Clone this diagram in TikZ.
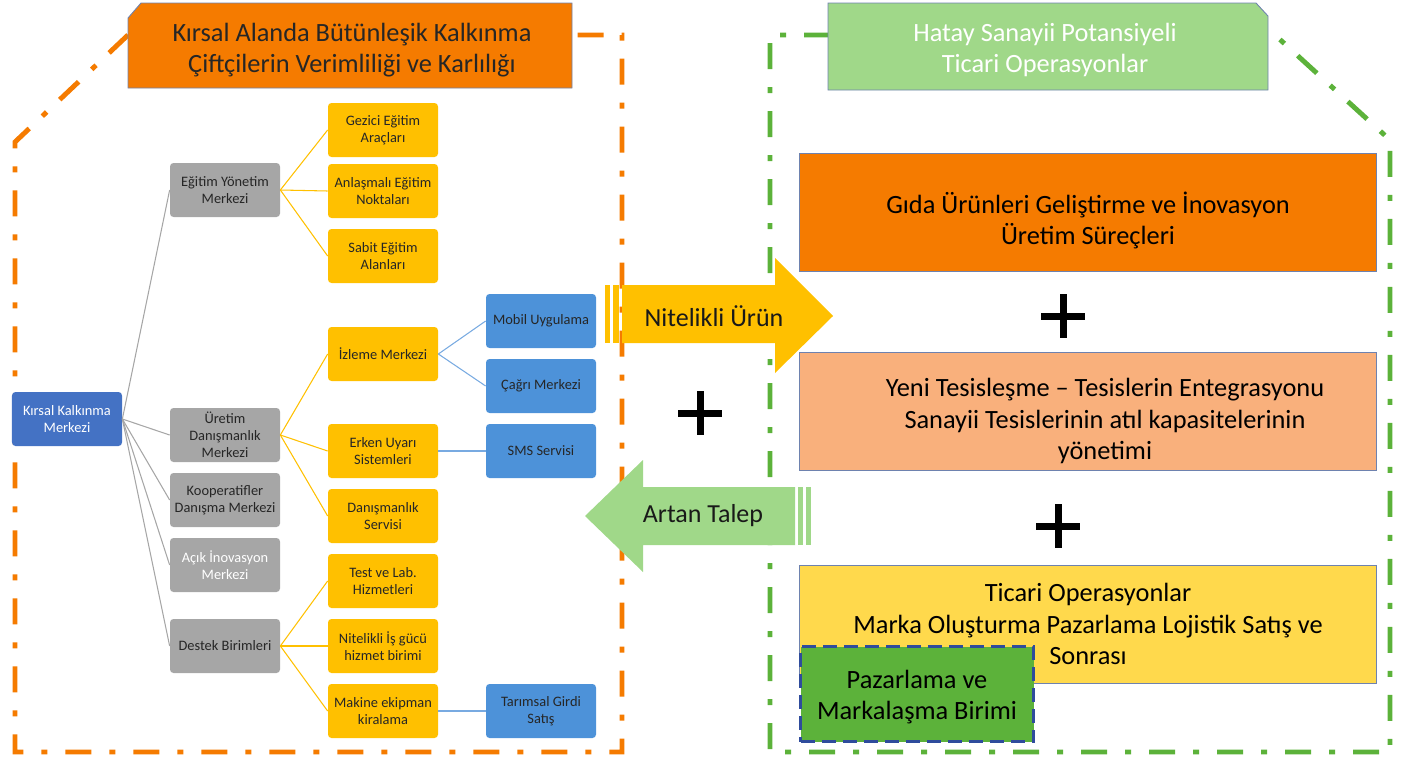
\documentclass[tikz,border=0pt]{standalone}
\usepackage{fontspec}
\setmainfont{Carlito}
\usepackage{tikz}
\usetikzlibrary{calc,positioning}
\definecolor{turuncu}{RGB}{245,123,0}
\definecolor{sari}{RGB}{255,192,0}
\definecolor{gri}{RGB}{166,166,166}
\definecolor{koyumavi}{RGB}{68,114,196}
\definecolor{acikmavi}{RGB}{77,146,217}
\definecolor{acikyesil}{RGB}{160,216,137}
\definecolor{yesil}{RGB}{92,178,58}
\definecolor{somon}{RGB}{249,176,124}
\definecolor{limon}{RGB}{255,217,76}
\definecolor{kenar}{RGB}{110,130,175}
\definecolor{cizgimavi}{RGB}{47,76,156}
\definecolor{hatmavi}{RGB}{120,170,225}
\newcommand{\ustpay}{\rule{0pt}{22pt}}
\newcommand{\sagpay}{\hspace*{6.8mm}}

\begin{document}
\begin{tikzpicture}[x=0.2mm,y=-0.2mm,every node/.style={font=\fontsize{8.2}{9.6}\selectfont},
          kutu/.style={rounded corners=2pt,minimum width=22mm,minimum height=10.8mm,inner sep=1pt,align=center,text=black!85},
          gkutu/.style={kutu,fill=gri},
          skutu/.style={kutu,fill=sari},
          mkutu/.style={kutu,fill=acikmavi},
          buyuk/.style={draw=kenar,line width=0.5pt,minimum width=115.4mm,minimum height=23.6mm,align=center,font=\fontsize{15}{18}\selectfont,text=black},
          baslik/.style={align=center,font=\fontsize{15}{17.5}\selectfont},
          cerceve/.style={line width=2.8pt,dash pattern=on 5.2mm off 3.6mm on 1.2mm off 3.6mm},
          arti/.style={minimum size=8.8mm,inner sep=0pt,path picture={
            \fill[black] ([xshift=-0.7mm]path picture bounding box.north) rectangle ([xshift=0.7mm]path picture bounding box.south);
            \fill[black] ([yshift=0.7mm]path picture bounding box.west) rectangle ([yshift=-0.7mm]path picture bounding box.east);}}]
        \useasboundingbox (0,0) rectangle (1409,760);
        % dash-dot frames
        \draw[turuncu,cerceve] (128,35) -- (15,142) -- (15,752) -- (622,752) -- (622,35) -- cycle;
        \draw[yesil,cerceve] (830,35) -- (770,35) -- (770,752) -- (1390,752) -- (1390,140) -- (1275,35) -- cycle;
        % headers
        \filldraw[fill=turuncu,draw=kenar,line width=0.5pt] (128,18) -- (141,3) -- (572,3) -- (572,88) -- (128,88) -- cycle;
        \node[baslik,text=black!85] (sol) at (352,50) {Kırsal Alanda Bütünleşik Kalkınma\\Çiftçilerin Verimliliği ve Karlılığı};
        \filldraw[fill=acikyesil,draw=kenar,line width=0.5pt] (828,3) -- (1256,3) -- (1268,16) -- (1268,90) -- (828,90) -- cycle;
        \node[baslik,text=white] (sag) at (1045,50) {Hatay Sanayii Potansiyeli\\Ticari Operasyonlar};
        % tree
        \node[kutu,fill=koyumavi,text=white] (kkm) at (67,419) {Kırsal Kalkınma\\Merkezi};
        \node[gkutu] (egy) at (225,190) {Eğitim Yönetim\\Merkezi};
        \node[gkutu] (udm) at (225,435) {Üretim\\Danışmanlık\\Merkezi};
        \node[gkutu] (kdm) at (225,500) {Kooperatifler\\Danışma Merkezi};
        \node[gkutu,text=white] (aim) at (225,565) {Açık İnovasyon\\Merkezi};
        \node[gkutu] (dbr) at (225,646) {Destek Birimleri};
        \node[skutu] (gea) at (383,130) {Gezici Eğitim\\Araçları};
        \node[skutu] (aen) at (383,191) {Anlaşmalı Eğitim\\Noktaları};
        \node[skutu] (sea) at (383,256) {Sabit Eğitim\\Alanları};
        \node[skutu] (izm) at (383,354) {İzleme Merkezi};
        \node[skutu] (eus) at (383,451) {Erken Uyarı\\Sistemleri};
        \node[skutu] (dns) at (383,516) {Danışmanlık\\Servisi};
        \node[skutu] (tlh) at (383,581) {Test ve Lab.\\Hizmetleri};
        \node[skutu] (nig) at (383,646) {Nitelikli İş gücü\\hizmet birimi};
        \node[skutu] (mek) at (383,711) {Makine ekipman\\kiralama};
        \node[mkutu] (mob) at (541,321) {Mobil Uygulama};
        \node[mkutu] (cgr) at (541,386) {Çağrı Merkezi};
        \node[mkutu] (sms) at (541,451) {SMS Servisi};
        \node[mkutu] (tgs) at (541,711) {Tarımsal Girdi\\Satış};
        \foreach \a/\b in {kkm/egy,kkm/udm,kkm/kdm,kkm/aim,kkm/dbr}
          \draw[gri,line width=0.6pt] (\a.east)--(\b.west);
        \foreach \a/\b in {egy/gea,egy/aen,egy/sea,udm/izm,udm/eus,udm/dns,dbr/tlh,dbr/nig,dbr/mek}
          \draw[sari,line width=0.6pt] (\a.east)--(\b.west);
        \foreach \a/\b in {izm/mob,izm/cgr,eus/sms,mek/tgs}
          \draw[hatmavi,line width=0.6pt] (\a.east)--(\b.west);
        % arrows
        \fill[sari] (622,285) -- (775,285) -- (775,258) -- (833,316) -- (775,373) -- (775,343) -- (622,343) -- cycle;
        \fill[sari] (605,285) rectangle (610,343);
        \fill[sari] (613,285) rectangle (619,343);
        \node[font=\fontsize{14.8}{16}\selectfont,text=black!90] (urun) at (714,316) {Nitelikli Ürün};
        \fill[acikyesil] (585,516) -- (643,460) -- (643,487) -- (795,487) -- (795,545) -- (643,545) -- (643,572) -- cycle;
        \fill[acikyesil] (798,487) rectangle (803,545);
        \fill[acikyesil] (806,487) rectangle (811,545);
        \node[font=\fontsize{14.8}{16}\selectfont,text=black!90] (talep) at (703,516) {Artan Talep};
        % right boxes
        \node[buyuk,fill=turuncu] (gida) at (1088,212) {\ustpay Gıda Ürünleri Geliştirme ve İnovasyon\\Üretim Süreçleri};
        \node[buyuk,fill=somon] (tesis) at (1088,411) {\sagpay\ustpay Yeni Tesisleşme -- Tesislerin Entegrasyonu\\\sagpay Sanayii Tesislerinin atıl kapasitelerinin\\\sagpay yönetimi};
        \node[buyuk,fill=limon] (ticari) at (1088,624) {Ticari Operasyonlar\\Marka Oluşturma Pazarlama Lojistik Satış ve\\Sonrası};
        \node[draw=cizgimavi,fill=yesil,line width=1.8pt,dash pattern=on 2.8mm off 1.4mm,minimum width=46.6mm,minimum height=19mm,
              align=center,font=\fontsize{15}{18}\selectfont] (pmb) at (917,694) {\rule{0pt}{14pt}Pazarlama ve\\Markalaşma Birimi};
        \node[arti] (p1) at (700,413) {};
        \node[arti] (p2) at (1063,316) {};
        \node[arti] (p3) at (1058,526) {};
      \end{tikzpicture}
\end{document}
